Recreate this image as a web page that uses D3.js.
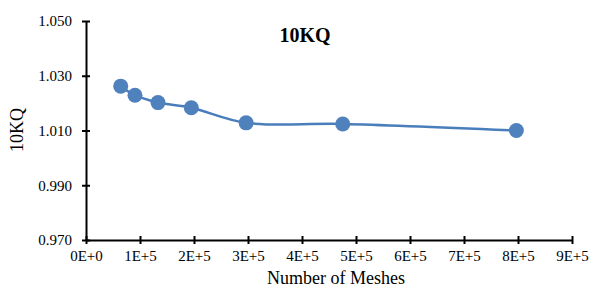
<!DOCTYPE html>
<html>
<head>
<meta charset="utf-8">
<script src="https://cdn.jsdelivr.net/npm/d3@7"></script>
<style>
  body { margin: 0; background: #fff; }
  text { font-family: "Liberation Serif", "Times New Roman", serif; fill: #000; }
</style>
</head>
<body>
<div id="chart"></div>
<script>
'use strict';
// data
const meshes = [64300, 90700, 133300, 195000, 296500, 475500, 797000];
const kq = [1.0262, 1.0229, 1.0202, 1.0183, 1.0128, 1.0124, 1.0100];
const xTicks = [0, 1e5, 2e5, 3e5, 4e5, 5e5, 6e5, 7e5, 8e5, 9e5];
const yTicks = [0.970, 0.990, 1.010, 1.030, 1.050];

const W = 592, H = 287;
const serif = "'Liberation Serif', 'Times New Roman', serif";
const x = d3.scaleLinear().domain([0, 9e5]).range([86, 572]);
const y = d3.scaleLinear().domain([0.970, 1.050]).range([240, 21]);

const svg = d3.select("#chart").append("svg")
    .attr("width", W)
    .attr("height", H)
    .attr("font-family", serif);

const points = meshes.map(function(m, i) { return {m: m, v: kq[i]}; });

//y axis with ticks crossing the line
const yAxis = svg.append("g")
    .attr("transform", "translate(" + x(0) + ",0)")
    .call(d3.axisLeft(y).tickValues(yTicks).tickSize(4).tickSizeOuter(0)
        .tickFormat(d3.format(".3f")));
yAxis.attr("font-family", serif).attr("font-size", 15);
yAxis.selectAll(".tick line").attr("x1", 4);
yAxis.selectAll(".tick text").attr("x", -14);

const xAxis = svg.append("g")
    .attr("transform", "translate(0," + y(0.970) + ")")
    .call(d3.axisBottom(x).tickValues(xTicks).tickSize(4).tickSizeOuter(0)
        .tickFormat(function(d) { return d === 0 ? "0E+0" : (d / 1e5) + "E+5"; }));
xAxis.attr("font-family", serif).attr("font-size", 15);
xAxis.selectAll(".tick line").attr("y1", -4);
xAxis.selectAll(".tick text").attr("y", 10);

svg.selectAll(".domain, .tick line")
    .attr("stroke", "#000")
    .attr("stroke-width", 2);
svg.selectAll(".tick text").attr("fill", "#000");

//smoothed line like the spreadsheet one
const line = d3.line()
    .x(function(d) { return x(d.m); })
    .y(function(d) { return y(d.v); })
    .curve(d3.curveCatmullRom.alpha(0.5));

svg.append("path")
    .datum(points)
    .attr("fill", "none")
    .attr("stroke", "#4a7ebb")
    .attr("stroke-width", 2.5)
    .attr("d", line);

svg.selectAll("circle.pt")
    .data(points)
    .enter().append("circle")
    .attr("class", "pt")
    .attr("cx", function(d) { return x(d.m); })
    .attr("cy", function(d) { return y(d.v); })
    .attr("r", 7.5)
    .attr("fill", "#4f81bd");

//title
svg.append("text")
    .attr("x", 305)
    .attr("y", 42)
    .style("text-anchor", "middle")
    .style("font-size", "20px")
    .style("font-weight", "bold")
    .text("10KQ");

svg.append("text")
    .attr("x", 336)
    .attr("y", 284)
    .style("text-anchor", "middle")
    .style("font-size", "18px")
    .text("Number of Meshes");

svg.append("text")
    .attr("transform", "translate(23,130) rotate(-90)")
    .style("text-anchor", "middle")
    .style("font-size", "18px")
    .text("10KQ");
</script>
</body>
</html>
